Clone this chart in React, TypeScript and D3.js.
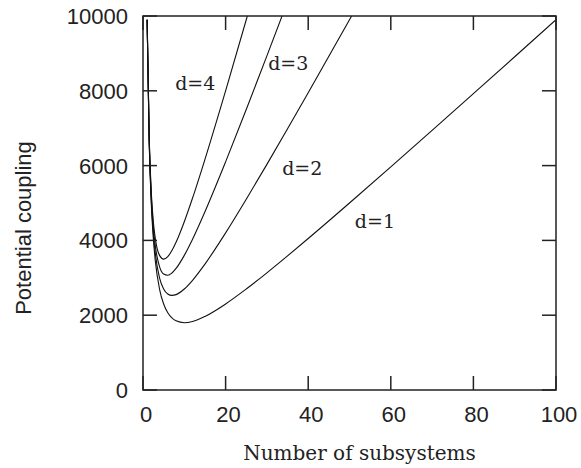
import React from "react";
import * as d3 from "d3";

// Number of subsystems (x) sampled along each curve
const nD1 = [1, 1.5, 2, 2.5, 3, 4, 5, 6, 7, 8, 10, 12, 15, 20, 25, 30, 35, 40, 50, 60, 70, 80, 90, 100];
const vD1 = [9900, 6617, 5000, 4050, 3433, 2700, 2300, 2067, 1929, 1850, 1800, 1833, 1967, 2300, 2700, 3133, 3586, 4050, 5000, 5967, 6943, 7925, 8911, 9900];

const nD2 = [1, 1.5, 2, 2.5, 3, 4, 5, 6, 7, 8, 10, 12, 15, 20, 25, 30, 35, 40, 45, 50, 55];
const vD2 = [9900, 6667, 5100, 4200, 3633, 3000, 2700, 2567, 2529, 2550, 2700, 2933, 3367, 4200, 5100, 6033, 6986, 7950, 8922, 9900, 10882];

const nD3 = [1, 1.5, 2, 2.5, 3, 4, 5, 6, 7, 8, 10, 12, 15, 20, 25, 30, 35];
const vD3 = [9900, 6717, 5200, 4350, 3833, 3300, 3100, 3067, 3129, 3250, 3600, 4033, 4767, 6100, 7500, 8933, 10386];

const nD4 = [1, 1.5, 2, 2.5, 3, 4, 5, 6, 7, 8, 10, 12, 15, 20, 25, 27];
const vD4 = [9900, 6767, 5300, 4500, 4033, 3600, 3500, 3567, 3729, 3950, 4500, 5133, 6167, 8000, 9900, 10670];

const seriesLabels = ["d=1", "d=2", "d=3", "d=4"];
// label anchor in data units (x = subsystems, y = coupling)
const labelN = [51.3, 33.7, 30.3, 7.8];
const labelV = [4330, 5750, 8560, 8020];

const xTicks = [0, 20, 40, 60, 80, 100];
const yTicks = [0, 2000, 4000, 6000, 8000, 10000];

const xTitle = "Number of subsystems";
const yTitle = "Potential coupling";

export default function App() {
  const W = 581;
  const H = 468;
  const x = d3.scaleLinear().domain([0, 100]).range([143, 556]);
  const y = d3.scaleLinear().domain([0, 10000]).range([390, 16]);

  const series = [
    { n: nD1, v: vD1 },
    { n: nD2, v: vD2 },
    { n: nD3, v: vD3 },
    { n: nD4, v: vD4 },
  ];

  const line = d3
    .line<[number, number]>()
    .x((d) => x(d[0]))
    .y((d) => y(d[1]))
    .curve(d3.curveMonotoneX);

  const tickLen = 14;
  const [x0, x1] = x.range();
  const [y0, y1] = y.range();

  return (
    <svg
      width={W}
      height={H}
      style={{ position: "absolute", left: 0, top: 0, background: "#fff" }}
    >
      <defs>
        <clipPath id="plot">
          <rect x={x0} y={y1} width={x1 - x0} height={y0 - y1} />
        </clipPath>
      </defs>
      <g clipPath="url(#plot)">
        {series.map((s, i) => (
          <path
            key={i}
            d={line(s.n.map((n, j) => [n, s.v[j]] as [number, number])) || ""}
            fill="none"
            stroke="#111"
            strokeWidth={1.1}
          />
        ))}
      </g>
      {/* frame */}
      <rect
        x={x0}
        y={y1}
        width={x1 - x0}
        height={y0 - y1}
        fill="none"
        stroke="#222"
        strokeWidth={1.5}
      />
      {/* ticks */}
      {xTicks.map((t) => (
        <g key={"xt" + t}>
          <line x1={x(t)} x2={x(t)} y1={y0} y2={y0 - tickLen} stroke="#222" strokeWidth={1.5} />
          <line x1={x(t)} x2={x(t)} y1={y1} y2={y1 + tickLen} stroke="#222" strokeWidth={1.5} />
          <text
            x={x(t) + 3}
            y={y0 + 32}
            textAnchor="middle"
            fontFamily="Liberation Sans"
            fontSize={22}
            fill="#222"
          >
            {t}
          </text>
        </g>
      ))}
      {yTicks.map((t) => (
        <g key={"yt" + t}>
          <line x1={x0} x2={x0 + tickLen} y1={y(t)} y2={y(t)} stroke="#222" strokeWidth={1.5} />
          <line x1={x1} x2={x1 - tickLen} y1={y(t)} y2={y(t)} stroke="#222" strokeWidth={1.5} />
          <text
            x={x0 - 15}
            y={y(t) + 8}
            textAnchor="end"
            fontFamily="Liberation Sans"
            fontSize={22}
            fill="#222"
          >
            {t}
          </text>
        </g>
      ))}
      {/* series labels */}
      {seriesLabels.map((l, i) => (
        <text
          key={l}
          x={x(labelN[i])}
          y={y(labelV[i])}
          fontFamily="DejaVu Serif"
          fontSize={19}
          fill="#222"
        >
          {l}
        </text>
      ))}
      {/* axis titles */}
      <text
        x={(x0 + x1) / 2 + 10}
        y={460}
        textAnchor="middle"
        fontFamily="DejaVu Serif"
        fontSize={20}
        fill="#222"
      >
        {xTitle}
      </text>
      <text
        transform={`translate(31, ${(y0 + y1) / 2 + 25}) rotate(-90)`}
        textAnchor="middle"
        fontFamily="Liberation Sans"
        fontSize={22}
        fill="#222"
      >
        {yTitle}
      </text>
    </svg>
  );
}
